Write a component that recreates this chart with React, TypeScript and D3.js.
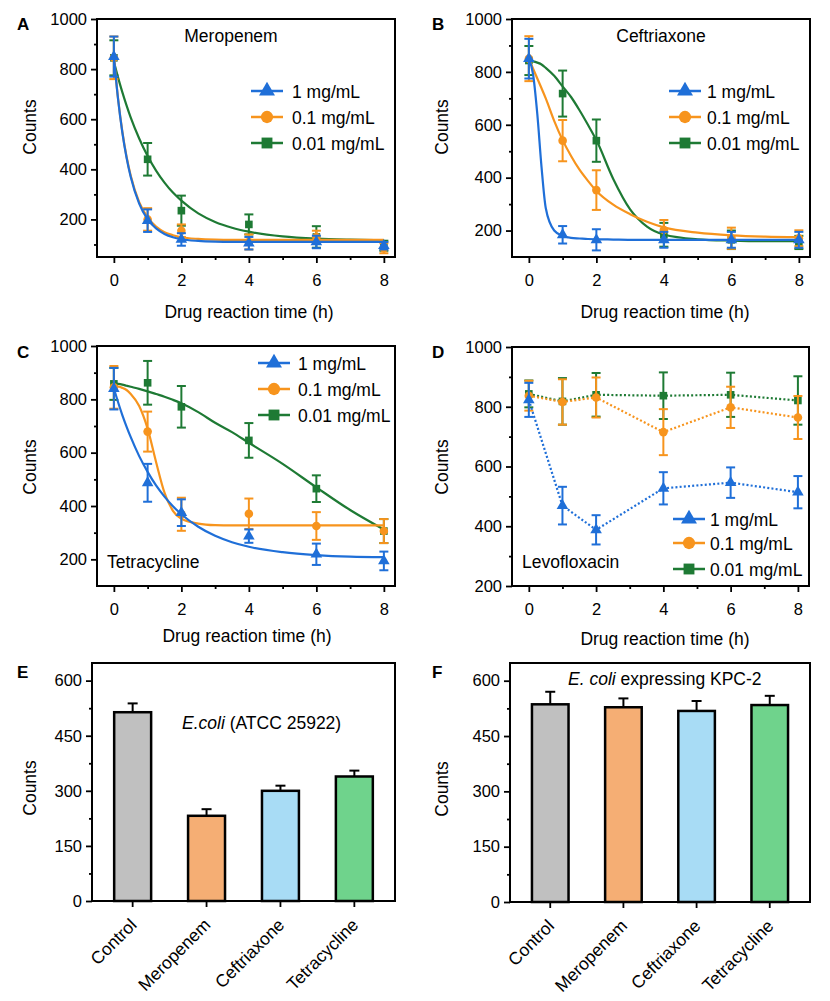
import React, { useEffect, useRef } from "react";
import * as d3 from "d3";

// ---- data ----
const times = [0, 1, 2, 4, 6, 8];
const doseLabels = ["1 mg/mL", "0.1 mg/mL", "0.01 mg/mL"];
// sample points of the fitted curves
const fitTimes = [0, 0.125, 0.25, 0.375, 0.5, 0.75, 1, 1.25, 1.5, 1.75, 2, 2.5, 3, 3.5, 4, 5, 6, 7, 8];

// A: Meropenem
const meroMean1 = [850, 195, 120, 105, 110, 95];
const meroErr1 = [80, 45, 25, 25, 25, 15];
const meroMean01 = [845, 200, 155, 110, 130, 85];
const meroErr01 = [85, 45, 25, 30, 25, 20];
const meroMean001 = [845, 440, 235, 180, 130, 95];
const meroErr001 = [70, 65, 60, 40, 43, 20];
const meroFit1 = [850, 679, 548, 447, 369, 263, 200, 164, 142, 129, 121, 114, 111, 110, 110, 110, 110, 110, 110];
const meroFit01 = [850, 681, 551, 451, 374, 269, 208, 171, 149, 137, 129, 122, 119, 118, 118, 118, 118, 118, 118];
const meroFit001 = [830, 766, 708, 655, 606, 523, 453, 395, 347, 307, 275, 224, 190, 167, 151, 132, 123, 119, 117];

// B: Ceftriaxone
const ceftMean1 = [850, 184, 165, 165, 165, 165];
const ceftErr1 = [75, 33, 40, 30, 30, 30];
const ceftMean01 = [850, 540, 353, 202, 171, 171];
const ceftErr01 = [85, 78, 75, 38, 40, 30];
const ceftMean001 = [843, 718, 540, 184, 165, 155];
const ceftErr001 = [55, 87, 80, 45, 35, 25];
const ceftFit1 = [850, 790, 640, 440, 285, 200, 180, 172, 170, 168, 167, 166, 165, 165, 165, 165, 165, 165, 165];
const ceftFit01 = [850, 812, 775, 738, 700, 615, 542, 482, 430, 388, 350, 298, 262, 233, 212, 192, 182, 177, 175];
const ceftFit001 = [843, 840, 835, 828, 815, 785, 745, 705, 655, 600, 542, 395, 280, 215, 185, 167, 162, 160, 160];

// C: Tetracycline
const tetraMean1 = [840, 487, 375, 287, 219, 194];
const tetraErr1 = [78, 71, 50, 25, 40, 35];
const tetraMean01 = [845, 679, 369, 371, 325, 306];
const tetraErr01 = [80, 75, 62, 57, 52, 45];
const tetraMean001 = [858, 862, 772, 646, 465, 306];
const tetraErr001 = [60, 82, 78, 65, 50, 45];
const tetraFit1 = [840, 789, 741, 698, 658, 587, 528, 477, 435, 399, 369, 322, 288, 264, 247, 227, 216, 210, 208];
const tetraFit01 = [850, 848, 843, 835, 820, 775, 690, 565, 450, 382, 352, 334, 328, 327, 327, 327, 327, 327, 327];
const tetraFit001 = [860, 858, 855, 851, 847, 839, 830, 820, 810, 798, 785, 752, 712, 677, 637, 558, 470, 385, 312];

// D: Levofloxacin
const levoMean1 = [823, 469, 388, 527, 546, 514];
const levoErr1 = [57, 63, 49, 54, 51, 54];
const levoMean01 = [837, 816, 831, 715, 798, 764];
const levoErr01 = [50, 76, 67, 77, 69, 72];
const levoMean001 = [843, 818, 840, 837, 840, 821];
const levoErr001 = [45, 78, 73, 78, 74, 81];

// E / F bars
const drugNames = ["Control", "Meropenem", "Ceftriaxone", "Tetracycline"];
const atccMean = [514, 232, 300, 339];
const atccErr = [24, 18, 14, 16];
const kpcMean = [536, 528, 518, 534];
const kpcErr = [34, 24, 27, 25];

// ---- styles ----
const FONT = "'Liberation Sans', Arial, Helvetica, sans-serif";
const TICK_FS = 16.5;
const LABEL_FS = 17.5;
const doseColors = ["#1f6fd8", "#f7941d", "#1e7a34"];
const doseShapes = [d3.symbolTriangle, d3.symbolCircle, d3.symbolSquare];
const barColors = ["#c0c0c0", "#f5ae74", "#a8dcf5", "#6fd38c"];

type Sel = d3.Selection<SVGGElement, unknown, null, undefined>;

function styleAxis(a: Sel) {
  a.select(".domain").remove();
  a.attr("font-size", TICK_FS).attr("font-family", FONT);
  a.selectAll("line").attr("stroke", "#000").attr("stroke-width", 1.8);
  a.selectAll("text").attr("fill", "#000");
}

function addText(g: Sel, txt: string, x: number, y: number, opts: any = {}) {
  const t = g
    .append("text")
    .attr("x", x)
    .attr("y", y)
    .attr("font-family", FONT)
    .attr("font-size", opts.size || LABEL_FS)
    .attr("text-anchor", opts.anchor || "start")
    .attr("fill", "#000")
    .text(txt);
  if (opts.bold) t.attr("font-weight", "bold");
  if (opts.rotate) t.attr("transform", `rotate(${opts.rotate},${x},${y})`);
  return t;
}

function drawLinePanel(svg: Sel, p: any) {
  const [x0, x1, y0, y1] = p.box;
  const x = d3.scaleLinear().domain([-0.5, 8.33]).range([x0, x1]);
  const y = d3.scaleLinear().domain(p.yDomain).range([y1, y0]);
  const g = svg.append("g");

  const ax = g.append("g").attr("transform", `translate(0,${y1})`)
    .call(d3.axisBottom(x).tickValues([0, 2, 4, 6, 8]).tickSize(6).tickPadding(11).tickFormat(d3.format("d")));
  const axm = g.append("g").attr("transform", `translate(0,${y1})`)
    .call(d3.axisBottom(x).tickValues([1, 3, 5, 7]).tickSize(3).tickFormat(() => ""));
  const ay = g.append("g").attr("transform", `translate(${x0},0)`)
    .call(d3.axisLeft(y).tickValues(p.yTicks).tickSize(6).tickPadding(4).tickFormat(d3.format("d")));
  const aym = g.append("g").attr("transform", `translate(${x0},0)`)
    .call(d3.axisLeft(y).tickValues(p.yMinor).tickSize(3).tickFormat(() => ""));
  [ax, axm, ay, aym].forEach(styleAxis);

  g.append("rect").attr("x", x0).attr("y", y0).attr("width", x1 - x0).attr("height", y1 - y0)
    .attr("fill", "none").attr("stroke", "#000").attr("stroke-width", 2);

  // series drawn green first so blue sits on top
  [2, 1, 0].forEach((si) => {
    const s = p.series[si];
    const color = doseColors[si];
    if (s.fit) {
      const line = d3.line<number>().x((_, i) => x(fitTimes[i])).y((d) => y(d)).curve(d3.curveMonotoneX);
      g.append("path").attr("d", line(s.fit)).attr("fill", "none").attr("stroke", color).attr("stroke-width", 2.2);
    } else {
      const line = d3.line<number>().x((_, i) => x(times[i])).y((d) => y(d));
      g.append("path").attr("d", line(s.mean)).attr("fill", "none").attr("stroke", color)
        .attr("stroke-width", 2.2).attr("stroke-dasharray", "2,2.2");
    }
    const eg = g.append("g").attr("stroke", color).attr("stroke-width", 2).attr("fill", "none");
    s.mean.forEach((m: number, i: number) => {
      const cx = x(times[i]);
      const lo = y(m - s.err[i]);
      const hi = y(m + s.err[i]);
      eg.append("line").attr("x1", cx).attr("x2", cx).attr("y1", lo).attr("y2", hi);
      eg.append("line").attr("x1", cx - 4.5).attr("x2", cx + 4.5).attr("y1", lo).attr("y2", lo);
      eg.append("line").attr("x1", cx - 4.5).attr("x2", cx + 4.5).attr("y1", hi).attr("y2", hi);
    });
    const sym = d3.symbol().type(doseShapes[si]).size(si === 0 ? 58 : 58);
    s.mean.forEach((m: number, i: number) => {
      g.append("path").attr("d", sym()).attr("fill", color)
        .attr("transform", `translate(${x(times[i])},${y(m)})`);
    });
  });

  // legend
  const L = p.legend;
  doseLabels.forEach((lab, i) => {
    const ry = L.rows[i];
    g.append("line").attr("x1", L.x0).attr("x2", L.x1).attr("y1", ry).attr("y2", ry)
      .attr("stroke", doseColors[i]).attr("stroke-width", 2.5);
    const sym = d3.symbol().type(doseShapes[i]).size(i === 0 ? 110 : 118);
    g.append("path").attr("d", sym()).attr("fill", doseColors[i])
      .attr("transform", `translate(${(L.x0 + L.x1) / 2},${ry})`);
    addText(g, lab, L.tx, ry + 6.5);
  });

  addText(g, p.note.text, p.note.x, p.note.y, { anchor: p.note.anchor });
  addText(g, p.letter, p.letterPos[0], p.letterPos[1], { bold: true, size: 17 });
  addText(g, "Counts", p.yTitle[0], p.yTitle[1], { anchor: "middle", rotate: -90 });
  addText(g, "Drug reaction time (h)", p.xTitle[0], p.xTitle[1], { anchor: "middle" });
}

function drawBarPanel(svg: Sel, p: any) {
  const [x0, x1, y0, y1] = p.box;
  const x = d3.scaleBand().domain(drugNames).range([x0, x1]).paddingInner(0.5).paddingOuter(0.3);
  const y = d3.scaleLinear().domain([0, 648]).range([y1, y0]);
  const g = svg.append("g");

  const ax = g.append("g").attr("transform", `translate(0,${y1})`)
    .call(d3.axisBottom(x).tickSize(6).tickFormat(() => ""));
  const ay = g.append("g").attr("transform", `translate(${x0},0)`)
    .call(d3.axisLeft(y).tickValues([0, 150, 300, 450, 600]).tickSize(6).tickPadding(4));
  const aym = g.append("g").attr("transform", `translate(${x0},0)`)
    .call(d3.axisLeft(y).tickValues([75, 225, 375, 525]).tickSize(3).tickFormat(() => ""));
  [ax, ay, aym].forEach(styleAxis);

  g.append("rect").attr("x", x0).attr("y", y0).attr("width", x1 - x0).attr("height", y1 - y0)
    .attr("fill", "none").attr("stroke", "#000").attr("stroke-width", 2);

  drugNames.forEach((name, i) => {
    const bx = x(name) as number;
    const bw = x.bandwidth();
    const cx = bx + bw / 2;
    const top = y(p.mean[i]);
    const errTop = y(p.mean[i] + p.err[i]);
    g.append("line").attr("x1", cx).attr("x2", cx).attr("y1", top).attr("y2", errTop)
      .attr("stroke", "#000").attr("stroke-width", 2);
    g.append("line").attr("x1", cx - 5).attr("x2", cx + 5).attr("y1", errTop).attr("y2", errTop)
      .attr("stroke", "#000").attr("stroke-width", 2);
    g.append("rect").attr("x", bx).attr("y", top).attr("width", bw).attr("height", y1 - top)
      .attr("fill", barColors[i]).attr("stroke", "#000").attr("stroke-width", 2.5);
    addText(g, name, cx + 5, y1 + 25, { anchor: "end", rotate: -45 });
  });

  const n = g.append("text").attr("x", p.note.x).attr("y", p.note.y)
    .attr("font-family", FONT).attr("font-size", LABEL_FS).attr("fill", "#000");
  n.append("tspan").attr("font-style", "italic").text(p.note.italic);
  n.append("tspan").text(p.note.rest);

  addText(g, p.letter, p.letterPos[0], p.letterPos[1], { bold: true, size: 17 });
  addText(g, "Counts", p.yTitle[0], p.yTitle[1], { anchor: "middle", rotate: -90 });
}

const App: React.FC = () => {
  const svgRef = useRef<SVGSVGElement | null>(null);

  useEffect(() => {
    const svg = d3.select(svgRef.current) as any;
    svg.selectAll("*").remove();
    const root: Sel = svg.append("g");

    drawLinePanel(root, {
      letter: "A", letterPos: [17, 30],
      box: [97, 395, 19, 257], yDomain: [50, 1000],
      yTicks: [200, 400, 600, 800, 1000], yMinor: [100, 300, 500, 700, 900],
      series: [
        { mean: meroMean1, err: meroErr1, fit: meroFit1 },
        { mean: meroMean01, err: meroErr01, fit: meroFit01 },
        { mean: meroMean001, err: meroErr001, fit: meroFit001 },
      ],
      note: { text: "Meropenem", x: 231, y: 42, anchor: "middle" },
      legend: { x0: 251, x1: 283, tx: 292, rows: [91, 117, 143] },
      yTitle: [36, 127], xTitle: [249, 318],
    });

    drawLinePanel(root, {
      letter: "B", letterPos: [432, 30],
      box: [512, 810, 19, 257], yDomain: [100, 1000],
      yTicks: [200, 400, 600, 800, 1000], yMinor: [300, 500, 700, 900],
      series: [
        { mean: ceftMean1, err: ceftErr1, fit: ceftFit1 },
        { mean: ceftMean01, err: ceftErr01, fit: ceftFit01 },
        { mean: ceftMean001, err: ceftErr001, fit: ceftFit001 },
      ],
      note: { text: "Ceftriaxone", x: 661, y: 42, anchor: "middle" },
      legend: { x0: 669, x1: 701, tx: 707, rows: [91, 117, 143] },
      yTitle: [448, 127], xTitle: [665, 318],
    });

    drawLinePanel(root, {
      letter: "C", letterPos: [17, 358],
      box: [97, 395, 346, 586], yDomain: [100, 1000],
      yTicks: [200, 400, 600, 800, 1000], yMinor: [300, 500, 700, 900],
      series: [
        { mean: tetraMean1, err: tetraErr1, fit: tetraFit1 },
        { mean: tetraMean01, err: tetraErr01, fit: tetraFit01 },
        { mean: tetraMean001, err: tetraErr001, fit: tetraFit001 },
      ],
      note: { text: "Tetracycline", x: 107, y: 568, anchor: "start" },
      legend: { x0: 258, x1: 290, tx: 298, rows: [363, 389, 415] },
      yTitle: [36, 467], xTitle: [247, 642],
    });

    drawLinePanel(root, {
      letter: "D", letterPos: [432, 358],
      box: [512, 809, 347, 586], yDomain: [200, 1000],
      yTicks: [200, 400, 600, 800, 1000], yMinor: [300, 500, 700, 900],
      series: [
        { mean: levoMean1, err: levoErr1 },
        { mean: levoMean01, err: levoErr01 },
        { mean: levoMean001, err: levoErr001 },
      ],
      note: { text: "Levofloxacin", x: 522, y: 568, anchor: "start" },
      legend: { x0: 673, x1: 705, tx: 710, rows: [519, 543, 569] },
      yTitle: [448, 467], xTitle: [665, 645],
    });

    drawBarPanel(root, {
      letter: "E", letterPos: [17, 678],
      box: [92, 395, 663, 901],
      mean: atccMean, err: atccErr,
      note: { italic: "E.coli", rest: " (ATCC 25922)", x: 182, y: 729 },
      yTitle: [36, 788],
    });

    drawBarPanel(root, {
      letter: "F", letterPos: [432, 678],
      box: [510, 810, 663, 902],
      mean: kpcMean, err: kpcErr,
      note: { italic: "E. coli", rest: " expressing KPC-2", x: 568, y: 685 },
      yTitle: [448, 789],
    });
  }, []);

  return (
    <svg
      ref={svgRef}
      width={830}
      height={1001}
      style={{ position: "absolute", left: 0, top: 0, background: "#fff" }}
    />
  );
};

export default App;
